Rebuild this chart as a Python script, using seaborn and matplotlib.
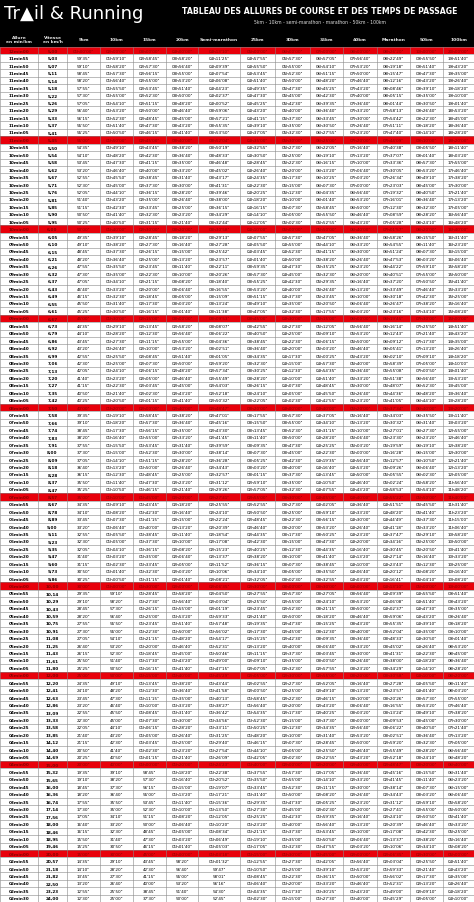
import matplotlib
matplotlib.use("Agg")
import matplotlib.pyplot as plt
import seaborn as sns
from matplotlib.patches import Rectangle

# DATA
# paces in seconds per km, 12min00 down to 02min30 in 5 s steps (one row each)
pace_minutes = [12, 11, 10, 9, 8, 7, 6, 5, 4, 3, 2]
pace_seconds = [0, 55, 50, 45, 40, 35, 30, 25, 20, 15, 10, 5]
distances = [5, 10, 15, 20, 21.0975, 25, 30, 35, 40, 42.195, 50, 100]
headers = ["Allure\nen min/km", "Vitesse\nen km/h", "5km", "10km", "15km", "20km",
           "Semi-marathon", "25km", "30km", "35km", "40km", "Marathon", "50km", "100km"]
col_edges = [0, 38, 67, 100, 133, 166, 198, 240, 275, 310, 343, 377, 410, 443, 474]

rows = []
for m in pace_minutes:
    for s in pace_seconds:
        rows.append(m * 60 if s == 0 else (m - 1) * 60 + s)
rows = sorted(set(r for r in rows if 150 <= r <= 720), reverse=True)


def fmt_time(sec):
    sec = int(round(sec))
    h, rem = divmod(sec, 3600)
    mm, ss = divmod(rem, 60)
    if h == 0:
        return f"{mm}'{ss:02d}\""
    return f"{h:02d}h{mm:02d}'{ss:02d}\""


sns.set_style("white")
plt.rcParams['font.family'] = ['DejaVu Sans']
fig = plt.figure(figsize=(4.74, 9.03), dpi=100)
ax = fig.add_axes([0, 0, 1, 1])
ax.set_xlim(0, 474)
ax.set_ylim(903, 0)
ax.axis("off")

# header
ax.add_patch(Rectangle((0, 0), 474, 48, color="black"))
ax.text(4, 14, "Tr\u25b2il & Running", color="white", fontsize=13, va="center", ha="left")
ax.text(320, 12, "TABLEAU DES ALLURES DE COURSE ET DES TEMPS DE PASSAGE",
        color="white", fontsize=5.6, fontweight="bold", va="center", ha="center")
ax.text(320, 23, "5km - 10km - semi-marathon - marathon - 50km - 100km",
        color="#dddddd", fontsize=3.3, va="center", ha="center")
for i, h in enumerate(headers):
    cx = (col_edges[i] + col_edges[i + 1]) / 2
    ax.text(cx, 40, h, color="#e6e6e6", fontsize=3.2, fontweight="bold", ha="center", va="center")

top = 48
rh = (903 - top) / len(rows)
for r, sec in enumerate(rows):
    y = top + r * rh
    red = sec % 60 == 0
    bg = "#e8000b" if red else "white"
    ax.add_patch(Rectangle((0, y), 474, rh, facecolor=bg, edgecolor="none"))
    tc = "#8b0000" if red else "black"
    cells = [f"{sec // 60:02d}min{sec % 60:02d}", f"{3600 / sec:.2f}".replace(".", ",")]
    cells += [fmt_time(sec * d) for d in distances]
    for i, c in enumerate(cells):
        cx = (col_edges[i] + col_edges[i + 1]) / 2
        ax.text(cx, y + rh / 2, c, fontsize=3.0, color=tc, ha="center", va="center",
                fontweight="bold" if i < 2 else "normal")
    ax.plot([0, 474], [y, y], color="#888888", lw=0.4)
for x in col_edges:
    ax.plot([x, x], [top, 903], color="#888888", lw=0.4)

fig.savefig("out.png", dpi=100)
